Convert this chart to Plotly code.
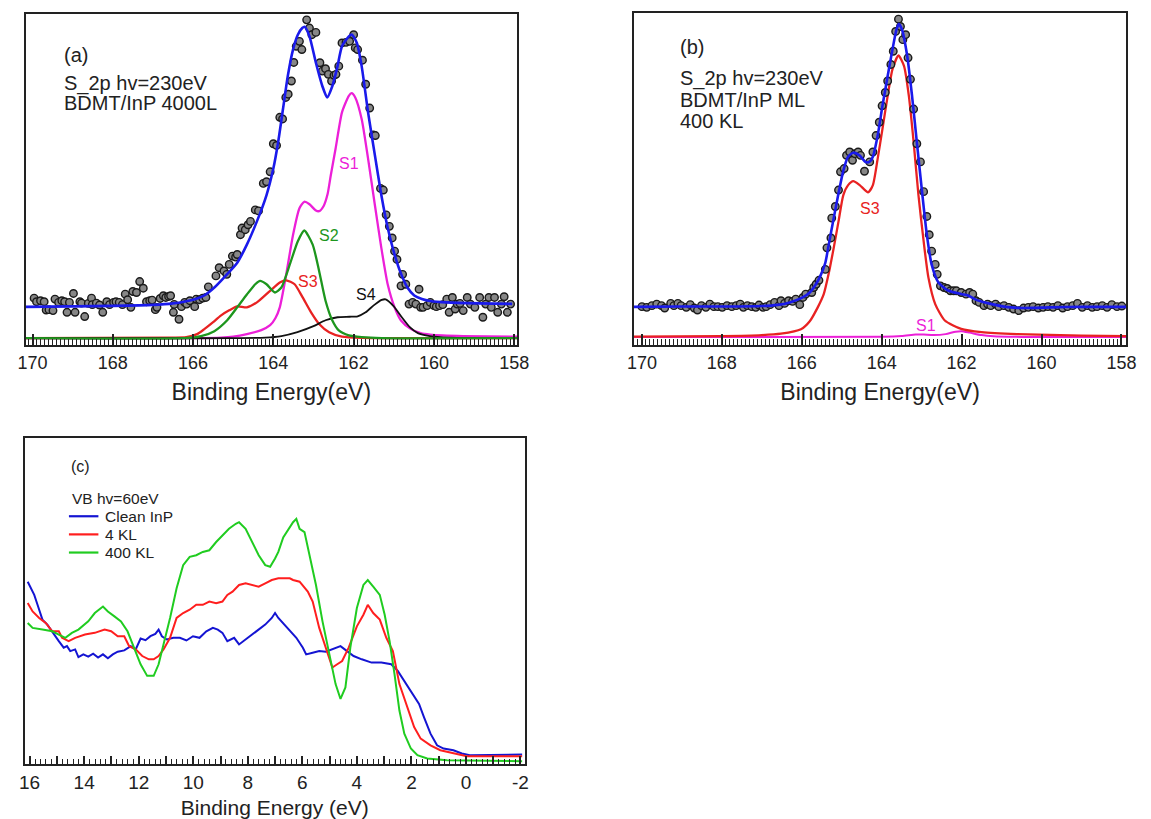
import plotly.graph_objects as go

W, H = 1151, 819
FONT = "Liberation Sans, Arial, sans-serif"
INK = "#222222"

# ---------------- (a) S 2p, BDMT/InP 4000 L ----------------
a_dot_E = [169.96, 169.90, 169.80, 169.71, 169.66, 169.59, 169.49, 169.44, 169.35, 169.27,
           169.20, 169.14, 169.08, 168.98, 168.94, 168.82, 168.78, 168.70, 168.61, 168.53,
           168.51, 168.41, 168.33, 168.25, 168.15, 168.08, 167.98, 167.92, 167.84, 167.76,
           167.69, 167.63, 167.55, 167.50, 167.41, 167.33, 167.24, 167.16, 167.08, 167.02,
           166.94, 166.90, 166.82, 166.74, 166.68, 166.61, 166.56, 166.49, 166.47, 166.35,
           166.29, 166.21, 166.16, 166.08, 165.96, 165.92, 165.84, 165.76,
           165.68, 165.62, 165.43, 165.35, 165.23, 165.16, 165.10, 165.02, 164.94, 164.90,
           164.82, 164.78, 164.70, 164.63, 164.57, 164.45, 164.37, 164.25, 164.17, 164.08,
           164.00, 163.92, 163.84, 163.77, 163.69, 163.63, 163.55, 163.49, 163.43, 163.35,
           163.29, 163.17, 163.10, 163.04, 162.94, 162.84, 162.78, 162.70, 162.63, 162.55,
           162.49, 162.44, 162.37, 162.29, 162.19, 162.10, 162.00, 161.96, 161.90, 161.78,
           161.70, 161.60, 161.51, 161.46, 161.33, 161.26,
           161.19, 161.11, 161.04, 160.98, 160.92, 160.82, 160.78, 160.70, 160.62, 160.53,
           160.45, 160.37, 160.33, 160.27, 160.17, 160.09, 160.00, 159.94, 159.86, 159.78,
           159.68, 159.62, 159.54, 159.47, 159.42, 159.35, 159.27, 159.17, 159.09, 158.98,
           158.86, 158.78, 158.71, 158.63, 158.57, 158.49, 158.41, 158.32, 158.25, 158.17,
           158.09]
a_dot_I = [40.3, 36.7, 37.7, 36.7, 28.3, 28.7, 27.7, 39.3, 36.0, 37.7,
           36.7, 26.0, 36.0, 45.0, 26.0, 36.7, 35.3, 21.7, 35.0, 40.3,
           33.7, 35.3, 33.3, 26.0, 36.7, 33.7, 36.0, 36.7, 36.0, 33.7,
           44.3, 38.7, 31.0, 47.0, 46.0, 57.0, 50.3, 36.7, 37.7, 38.3,
           28.7, 31.0, 40.0, 42.7, 41.0, 42.0, 42.7, 26.0, 34.0, 19.0,
           31.7, 36.0, 34.3, 37.7, 31.7, 39.3, 38.7, 40.3,
           41.0, 51.7, 62.7, 71.0, 67.7, 64.3, 74.3, 82.7, 81.7, 84.3,
           104.3, 111.0, 109.3, 114.3, 117.7, 129.3, 128.3, 156.0, 157.7, 167.7,
           196.0, 194.3, 222.7, 221.0, 242.7, 246.0, 259.3, 278.0, 294.3, 299.3,
           291.0, 321.0, 312.7, 306.0, 308.3, 277.7, 269.3, 271.7, 266.0, 259.3,
           265.0, 266.0, 274.3, 297.7, 298.3, 299.3, 306.0, 292.7, 291.0, 280.3,
           256.0, 232.0, 205.0, 204.3, 151.0, 149.3,
           124.3, 112.7, 101.0, 87.7, 79.3, 52.7, 64.3, 54.3, 34.3, 36.0,
           34.3, 49.3, 31.0, 31.0, 32.7, 36.0, 32.7, 31.7, 32.7, 33.7,
           39.3, 26.0, 41.0, 29.3, 34.3, 35.0, 27.7, 41.0, 34.3, 31.0,
           41.0, 21.0, 34.3, 41.0, 31.0, 41.0, 26.0, 34.3, 41.7, 26.0,
           34.3]

a_fit_E = [170.17, 169.0, 168.0, 167.0, 166.5, 166.2, 165.9, 165.72, 165.47, 165.23,
           164.90, 164.66, 164.41, 164.17, 164.00, 163.88, 163.76, 163.64, 163.51, 163.39,
           163.28, 163.22, 163.10, 162.94, 162.78, 162.66, 162.53, 162.41, 162.29, 162.12,
           162.04, 161.92, 161.80, 161.64, 161.47, 161.31, 161.15, 160.98, 160.82, 160.66,
           160.49, 160.30, 160.09, 159.68, 158.86, 158.05]
a_fit_I = [31.5, 32.0, 32.5, 33.5, 35.0, 37.0, 40.0, 43.0, 51.0, 61.0,
           76.0, 94.3, 117.7, 144.3, 171.0, 197.7, 231.0, 264.3, 291.0, 306.0,
           312.7, 314.0, 304.3, 277.7, 254.3, 242.7, 254.3, 272.7, 294.3, 304.3,
           306.0, 297.7, 274.3, 227.7, 184.3, 144.3, 111.0, 84.3, 65.0, 51.0,
           43.0, 39.5, 37.5, 36.0, 35.0, 34.5]

a_s1_E = [170.17, 166.0, 165.3, 165.0, 164.66, 164.3, 164.08, 163.95, 163.84, 163.68,
          163.51, 163.35, 163.23, 163.10, 162.95, 162.86, 162.75, 162.65, 162.57, 162.45,
          162.29, 162.12, 162.05, 161.96, 161.80, 161.64, 161.47, 161.31, 161.15, 160.98,
          160.82, 160.58, 160.33, 160.09, 159.27, 158.09, 157.93]
a_s1_I = [0.0, 0.0, 0.5, 1.5, 4.0, 8.0, 13.0, 20.0, 31.0, 64.0,
          104.0, 131.0, 137.5, 135.0, 129.0, 128.0, 133.0, 145.0, 164.0, 191.0,
          227.7, 244.3, 247.0, 242.7, 221.0, 181.0, 134.0, 91.0, 54.0, 31.0,
          17.7, 9.3, 5.0, 3.5, 2.0, 1.5, 1.5]

a_s2_E = [170.17, 166.2, 165.8, 165.47, 165.15, 164.90, 164.66, 164.45, 164.33, 164.17,
          163.96, 163.80, 163.59, 163.39, 163.23, 163.02, 162.86, 162.70, 162.53, 162.37,
          162.12, 161.80, 161.30, 157.93]
a_s2_I = [0.0, 0.0, 2.0, 7.0, 18.0, 31.0, 44.0, 54.3, 57.7, 54.3,
          46.0, 51.0, 74.3, 97.7, 108.5, 94.3, 67.7, 37.7, 17.7, 7.7,
          2.7, 1.0, 0.0, 0.0]

a_s3_E = [170.17, 166.5, 166.17, 165.90, 165.72, 165.50, 165.31, 165.10, 164.90, 164.66,
          164.41, 164.08, 163.84, 163.68, 163.47, 163.27, 163.06, 162.86, 162.61, 162.29,
          161.80, 157.93]
a_s3_I = [0.0, 0.5, 1.0, 4.0, 9.0, 16.0, 22.7, 28.0, 32.0, 31.0,
          36.0, 47.7, 56.0, 58.3, 54.3, 41.0, 26.0, 14.3, 6.0, 1.5,
          0.3, 0.0]

a_s4_E = [170.17, 164.2, 163.8, 163.4, 163.0, 162.7, 162.4, 162.1, 161.9, 161.7,
          161.5, 161.3, 161.2, 161.0, 160.8, 160.6, 160.4, 160.1, 159.6, 157.93]
a_s4_I = [0.0, 0.5, 2.0, 6.0, 12.0, 18.0, 21.0, 21.5, 22.0, 26.0,
          33.0, 38.5, 39.0, 32.0, 21.0, 11.0, 5.0, 2.0, 0.5, 0.0]

# ---------------- (b) S 2p, BDMT/InP ML 400 KL ----------------
b_dot_E = [170.00, 169.88, 169.75, 169.63, 169.51, 169.43, 169.28, 169.20, 169.10, 169.02,
           168.89, 168.79, 168.69, 168.61, 168.51, 168.40, 168.30, 168.20, 168.10, 167.99,
           167.87, 167.75, 167.64, 167.54, 167.46, 167.36, 167.25, 167.15, 167.07, 166.97,
           166.89, 166.79, 166.68, 166.57, 166.52, 166.43, 166.33, 166.23, 166.15, 166.05,
           165.97, 165.90, 165.75, 165.70, 165.64, 165.57,
           165.41, 165.37, 165.27, 165.25, 165.16, 165.08, 165.03, 164.94, 164.88, 164.80,
           164.73, 164.67, 164.59, 164.53, 164.43, 164.30, 164.22, 164.14, 164.06, 163.99,
           163.91, 163.85, 163.77, 163.71, 163.65, 163.58, 163.53, 163.47, 163.40, 163.34,
           163.28, 163.20, 163.12, 163.03, 162.95, 162.87, 162.81, 162.75, 162.66, 162.61,
           162.53, 162.44, 162.36, 162.28, 162.20,
           162.13, 162.01, 161.89, 161.80, 161.72, 161.64, 161.56, 161.44, 161.35, 161.27,
           161.15, 161.07, 160.94, 160.82, 160.70, 160.57, 160.45, 160.33, 160.21, 160.08,
           159.96, 159.84, 159.71, 159.59, 159.47, 159.35, 159.22, 159.10, 158.98, 158.85,
           158.73, 158.61, 158.48, 158.36, 158.24, 158.11, 157.99]
b_dot_I = [30.7, 30.0, 31.7, 33.3, 31.7, 29.3, 34.0, 31.7, 34.0, 31.7,
           30.0, 32.7, 29.3, 27.3, 31.7, 30.0, 33.3, 30.7, 30.7, 30.0,
           31.7, 30.7, 31.7, 33.3, 30.0, 31.7, 30.7, 30.0, 32.3, 30.0,
           30.7, 32.7, 35.0, 31.7, 36.7, 34.0, 36.7, 36.0, 38.3, 32.7,
           40.0, 43.3, 45.0, 50.0, 53.3, 57.3,
           68.3, 90.0, 100.0, 120.0, 131.7, 148.3, 166.7, 170.0, 183.3, 186.7,
           178.3, 185.0, 186.7, 183.3, 167.3, 176.7, 186.7, 203.3, 216.7, 233.3,
           246.7, 258.3, 275.0, 288.3, 308.3, 320.7, 313.3, 300.0, 305.0, 281.7,
           260.0, 230.0, 195.0, 176.7, 146.7, 121.7, 103.3, 86.7, 73.3, 63.3,
           51.7, 50.0, 49.0, 46.7, 46.7,
           46.7, 45.0, 43.3, 45.0, 43.3, 36.7, 35.0, 31.7, 33.3, 31.7,
           33.3, 30.7, 31.7, 30.0, 28.3, 26.7, 29.3, 30.0, 30.7, 29.3,
           30.0, 30.7, 30.0, 31.7, 29.3, 30.7, 31.7, 34.0, 30.0, 31.7,
           30.0, 30.7, 31.7, 30.0, 32.7, 30.7, 31.3]

b_fit_E = [170.2, 169.0, 168.0, 167.0, 166.6, 166.3, 166.0, 165.8, 165.65, 165.52,
           165.41, 165.33, 165.20, 165.08, 164.96, 164.84, 164.71, 164.55, 164.40, 164.30,
           164.22, 164.10, 163.98, 163.85, 163.73, 163.63, 163.57, 163.49, 163.36, 163.24,
           163.12, 162.99, 162.87, 162.75, 162.58, 162.34, 162.01, 161.84, 161.60, 161.27,
           160.90, 160.61, 160.20, 159.80, 158.98, 157.88]
b_fit_I = [30.5, 30.8, 30.8, 31.3, 32.5, 35.0, 39.5, 45.0, 53.0, 63.0,
           75.0, 92.0, 120.0, 145.0, 168.0, 182.0, 186.0, 183.0, 176.5, 177.0,
           182.0, 203.3, 233.3, 263.3, 290.0, 310.0, 316.0, 310.0, 283.3, 243.3,
           196.7, 146.7, 103.3, 73.3, 55.0, 47.0, 43.5, 42.0, 37.0, 33.5,
           30.5, 29.5, 29.5, 30.0, 30.5, 30.5]

b_s3_E = [170.2, 168.0, 167.0, 166.52, 166.02, 165.8, 165.6, 165.45, 165.33, 165.20,
          165.08, 164.96, 164.84, 164.71, 164.55, 164.34, 164.22, 164.10, 163.98, 163.85,
          163.73, 163.58, 163.44, 163.32, 163.20, 163.08, 162.95, 162.83, 162.66, 162.42,
          162.01, 161.50, 160.61, 159.0, 157.88]
b_s3_I = [0.5, 1.0, 2.0, 3.5, 8.0, 16.0, 30.0, 43.3, 63.3, 90.0,
          116.7, 143.3, 153.3, 157.3, 153.3, 146.0, 153.3, 180.0, 210.0, 243.3,
          270.0, 284.0, 273.3, 243.3, 196.7, 143.3, 96.7, 60.0, 33.3, 16.7,
          8.3, 5.0, 3.0, 1.5, 1.0]

b_s1_E = [170.2, 164.0, 163.5, 163.15, 162.95, 162.7, 162.4, 162.15, 162.0, 161.8,
          161.5, 161.2, 160.5, 157.88]
b_s1_I = [0.0, 0.3, 1.0, 2.5, 2.5, 2.0, 3.0, 5.5, 6.0, 4.5,
          2.0, 0.8, 0.2, 0.0]

# ---------------- (c) valence band, hv = 60 eV ----------------
c_clean_E = [16.07, 15.83, 15.71, 15.53, 15.35, 15.11, 14.93, 14.75, 14.63, 14.51,
             14.33, 14.21, 14.03, 13.85, 13.67, 13.49, 13.31, 13.13, 12.95, 12.77,
             12.53, 12.29, 12.11, 11.93, 11.75, 11.57, 11.39, 11.27, 11.15, 10.97,
             10.73, 10.49, 10.25, 10.01, 9.77, 9.52, 9.28, 9.10, 8.93, 8.75,
             8.50, 8.32, 8.08, 7.85, 7.60, 7.36, 7.12, 7.00, 6.88,
             6.46, 6.22, 5.98, 5.86, 5.62, 5.38, 5.14, 4.90, 4.60, 4.36,
             4.12, 3.82, 3.46, 3.10, 2.74, 2.50, 2.26, 1.96, 1.72, 1.54,
             1.30, 1.06, 0.82, 0.46, 0.15, -0.14, -1.11, -2.06]
c_clean_I = [184.3, 171.0, 161.0, 146.0, 141.0, 131.0, 124.3, 117.7, 119.3, 114.3,
             116.0, 108.3, 111.0, 108.7, 111.7, 107.7, 111.0, 107.0, 111.0, 113.7,
             115.0, 119.3, 116.0, 127.0, 125.3, 129.3, 131.7, 136.0, 129.3, 126.0,
             127.7, 127.7, 125.0, 129.3, 127.7, 134.3, 137.7, 136.0, 132.7, 124.3,
             127.7, 121.0, 126.0, 131.0, 136.0, 141.0, 147.7, 152.7, 147.7,
             134.3, 127.7, 117.7, 111.0, 112.7, 114.3, 113.7, 116.0, 119.3, 114.3,
             109.3, 106.0, 102.7, 102.7, 101.0, 94.3, 84.3, 71.0, 61.0, 47.7,
             31.0, 19.3, 16.0, 14.3, 11.0, 9.3, 9.3, 10.0]

c_4kl_E = [16.07, 15.89, 15.65, 15.41, 15.17, 14.93, 14.81, 14.57, 14.33, 13.97,
           13.61, 13.25, 13.01, 12.77, 12.53, 12.35, 12.11, 11.87, 11.63, 11.45,
           11.27, 11.09, 10.85, 10.61, 10.37, 10.13, 9.89, 9.65, 9.41, 9.16,
           8.93, 8.75, 8.56, 8.32, 8.08, 7.85, 7.60, 7.36, 7.12, 6.88,
           6.70, 6.46, 6.34, 6.10, 5.80, 5.62, 5.38, 5.14, 4.90, 4.72,
           4.54, 4.30, 4.00, 3.76, 3.60, 3.40, 3.16, 2.92, 2.68, 2.44,
           2.20, 1.90, 1.66, 1.30, 0.94, 0.46, -0.03, -1.11, -2.06]
c_4kl_I = [162.7, 154.3, 147.7, 142.7, 134.3, 134.3, 127.7, 124.3, 127.7, 131.0,
           132.7, 136.0, 134.3, 129.3, 129.3, 119.3, 116.0, 109.3, 106.0, 106.0,
           109.3, 116.0, 127.7, 147.7, 152.7, 156.0, 161.0, 161.0, 164.3, 162.7,
           164.3, 171.0, 174.3, 181.0, 182.7, 181.0, 179.3, 182.7, 186.0, 187.7,
           187.7, 187.7, 186.0, 184.3, 174.3, 164.3, 137.7, 117.7, 97.7, 101.0,
           104.3, 117.7, 139.3, 151.0, 161.0, 152.7, 146.0, 127.7, 114.3, 81.0,
           61.0, 37.7, 26.0, 19.3, 14.3, 11.0, 8.3, 8.3, 8.3]

c_400kl_E = [16.07, 15.89, 15.53, 15.17, 14.93, 14.69, 14.45, 14.21, 13.85, 13.61,
             13.31, 13.13, 12.89, 12.65, 12.41, 12.17, 11.93, 11.69, 11.45, 11.27,
             11.09, 10.85, 10.61, 10.37, 10.13, 9.89, 9.65, 9.41, 9.16, 8.93,
             8.69, 8.44, 8.32, 8.08, 7.85, 7.60, 7.36, 7.18, 7.00, 6.88,
             6.70, 6.58, 6.34, 6.22, 6.10, 5.92, 5.74, 5.50, 5.26, 5.02,
             4.78, 4.60, 4.42, 4.24, 4.00, 3.76, 3.60, 3.40, 3.16, 2.98,
             2.80, 2.62, 2.44, 2.26, 2.02, 1.78, 1.42, 0.70, -0.50, -2.06]
c_400kl_I = [142.7, 137.7, 136.0, 134.3, 131.0, 127.7, 132.7, 136.0, 144.3, 152.7,
             159.3, 154.3, 149.3, 144.3, 134.3, 117.7, 101.0, 89.3, 89.3, 101.0,
             121.0, 147.7, 177.7, 201.0, 209.3, 211.0, 214.3, 216.0, 224.3, 231.0,
             237.7, 242.7, 244.3, 237.7, 224.3, 211.0, 201.0, 199.3, 207.7, 214.3,
             229.0, 234.3, 244.3, 247.7, 237.7, 234.3, 211.0, 181.0, 144.3, 111.0,
             81.0, 66.0, 77.7, 117.7, 157.7, 181.0, 186.0, 179.3, 171.0, 151.0,
             124.3, 91.0, 54.3, 31.0, 16.0, 9.3, 6.0, 4.3, 3.7, 3.3]

c_tick_vals = [16, 15, 14, 13, 12, 11, 10, 9, 8, 7, 6, 5, 4, 3, 2, 1, 0, -1, -2]
c_tick_text = ["16", "", "14", "", "12", "", "10", "", "8", "", "6", "", "4", "", "2", "", "0", "", "-2"]

BLUE, MAGENTA, GREEN, RED, BLACK = "#1a1aeb", "#ec1fd8", "#1d961d", "#e82222", "#111111"
C_BLUE, C_RED, C_GREEN = "#1414d2", "#ff1e1e", "#20cc20"

c_series = [(c_clean_E, c_clean_I, C_BLUE, "Clean InP"),
            (c_4kl_E, c_4kl_I, C_RED, "4 KL"),
            (c_400kl_E, c_400kl_I, C_GREEN, "400 KL")]


def px(x):
    return x / W


def py(y):
    return 1 - y / H


fig = go.Figure()


def fit_line(E, I, color, xa, ya, width=2.3):
    fig.add_trace(go.Scatter(x=E, y=I, mode="lines", xaxis=xa, yaxis=ya, showlegend=False,
                             line=dict(color=color, width=width, shape="spline", smoothing=0.6),
                             hoverinfo="skip"))


def dots(E, I, xa, ya):
    fig.add_trace(go.Scatter(x=E, y=I, mode="markers", xaxis=xa, yaxis=ya, showlegend=False,
                             marker=dict(size=7.5, color="#878787",
                                         line=dict(color="#1a1a1a", width=1.4))))


# panel (a)
fit_line(a_s1_E, a_s1_I, MAGENTA, "x", "y")
fit_line(a_s3_E, a_s3_I, RED, "x", "y")
fit_line(a_s4_E, a_s4_I, BLACK, "x", "y", 1.8)
fit_line(a_s2_E, a_s2_I, GREEN, "x", "y")
dots(a_dot_E, a_dot_I, "x", "y")
fit_line(a_fit_E, a_fit_I, BLUE, "x", "y", 2.6)

# panel (b)
fit_line(b_s1_E, b_s1_I, MAGENTA, "x2", "y2", 2.0)
fit_line(b_s3_E, b_s3_I, RED, "x2", "y2")
dots(b_dot_E, b_dot_I, "x2", "y2")
fit_line(b_fit_E, b_fit_I, BLUE, "x2", "y2", 2.6)

# panel (c)
for E, I, c, name in c_series:
    fig.add_trace(go.Scatter(x=E, y=I, mode="lines", xaxis="x3", yaxis="y3", name=name,
                             showlegend=False, line=dict(color=c, width=2.0)))


def xaxis(dom, rng, anchor, title, size, tsize, standoff, **kw):
    d = dict(domain=dom, range=rng, anchor=anchor, showgrid=False, zeroline=False,
             showline=True, mirror=True, linewidth=2, linecolor=INK,
             ticks="inside", ticklen=11, tickwidth=1.5, tickcolor=INK,
             tickfont=dict(family=FONT, size=size, color=INK),
             title=dict(text=title, font=dict(family=FONT, size=tsize, color=INK),
                        standoff=standoff))
    d.update(kw)
    return d


def yaxis(dom, rng, anchor):
    return dict(domain=dom, range=rng, anchor=anchor, showgrid=False, zeroline=False,
                showline=True, mirror=True, linewidth=2, linecolor=INK,
                showticklabels=False, ticks="")


minor_a = dict(ticks="inside", ticklen=6, tickwidth=1, tickcolor=INK, tickmode="linear",
               tick0=0, dtick=0.1, showgrid=False)
minor_c = dict(ticks="inside", ticklen=5, tickwidth=1, tickcolor=INK, tickmode="linear",
               tick0=0, dtick=0.2, showgrid=False)

fig.update_layout(
    width=W, height=H, margin=dict(l=0, r=0, t=0, b=0),
    paper_bgcolor="white", plot_bgcolor="white",
    font=dict(family=FONT, color=INK),
    showlegend=False,
    xaxis=xaxis([px(18), px(518)], [170.17, 157.93], "y", "Binding Energy(eV)", 18, 23, 12,
                tickmode="linear", tick0=0, dtick=2, minor=minor_a),
    yaxis=yaxis([py(348), py(14)], [-7, 327], "x"),
    xaxis2=xaxis([px(637), px(1138)], [170.2, 157.88], "y2", "Binding Energy(eV)", 18, 23, 12,
                 tickmode="linear", tick0=0, dtick=2, minor=minor_a),
    yaxis2=yaxis([py(348), py(13)], [-8, 327], "x2"),
    xaxis3=xaxis([px(17), px(526)], [16.18, -2.16], "y3", "Binding Energy (eV)", 19, 21, 11,
                 tickmode="array", tickvals=c_tick_vals, ticktext=c_tick_text,
                 ticklen=8, minor=minor_c),
    yaxis3=yaxis([py(771), py(442)], [0, 329], "x3"),
)

notes = [
    ("(a)", 55, 55, 20), ("S_2p hv=230eV", 55, 84, 20), ("BDMT/InP 4000L", 55, 104, 20),
    ("(b)", 682, 47.5, 20), ("S_2p hv=230eV", 682, 79, 20), ("BDMT/InP ML", 682, 100.5, 20),
    ("400 KL", 682, 122.5, 20),
    ("(c)", 62, 471, 16), ("VB hv=60eV", 63, 503, 15.5),
]
for text, x, y, s in notes:
    fig.add_annotation(text=text, x=px(x), y=py(y), xref="paper", yref="paper",
                       xanchor="left", yanchor="middle", showarrow=False,
                       font=dict(family=FONT, size=s, color=INK))

# legend keys for panel (c)
for k, (_, _, c, name) in enumerate(c_series):
    yk = 520.7 + 18.3 * k
    fig.add_shape(type="line", xref="paper", yref="paper", x0=px(62), x1=px(92),
                  y0=py(yk), y1=py(yk), line=dict(color=c, width=2.2))
    fig.add_annotation(text=name, x=px(97), y=py(yk), xref="paper", yref="paper",
                       xanchor="left", yanchor="middle", showarrow=False,
                       font=dict(family=FONT, size=15.5, color=INK))

# component labels, placed in data coordinates
labels = [("S1", 162.11, 176, MAGENTA, "x", "y"), ("S2", 162.61, 103.5, GREEN, "x", "y"),
          ("S3", 163.13, 57, RED, "x", "y"), ("S4", 161.68, 43.5, BLACK, "x", "y"),
          ("S3", 164.30, 130, RED, "x2", "y2"), ("S1", 162.89, 12, MAGENTA, "x2", "y2")]
for text, x, y, c, xa, ya in labels:
    fig.add_annotation(text=text, x=x, y=y, xref=xa, yref=ya, showarrow=False,
                       xanchor="center", yanchor="middle",
                       font=dict(family=FONT, size=16, color=c))

fig.write_html("out.html")
